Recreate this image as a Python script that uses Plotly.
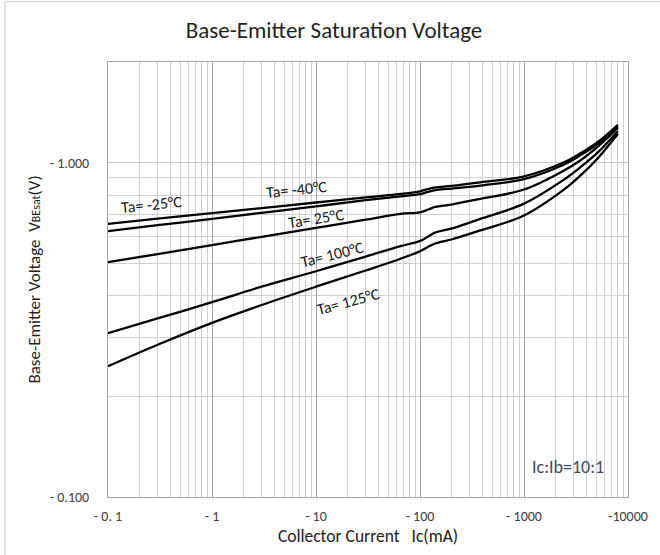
import plotly.graph_objects as go

# ---------------- data ----------------
ic_ma = [0.1, 0.3, 1, 3, 10, 30, 65, 100, 120, 140, 200, 380, 1000, 2400, 3500, 5100, 8000]

vbe_m40 = [0.656, 0.680, 0.706, 0.731, 0.760, 0.787, 0.806, 0.821, 0.834, 0.843, 0.852, 0.873, 0.910, 1.001, 1.067, 1.151, 1.297]
vbe_m25 = [0.624, 0.650, 0.679, 0.708, 0.740, 0.772, 0.793, 0.805, 0.818, 0.828, 0.836, 0.854, 0.893, 0.986, 1.053, 1.136, 1.284]
vbe_25 = [0.504, 0.533, 0.567, 0.600, 0.638, 0.675, 0.703, 0.710, 0.724, 0.737, 0.749, 0.779, 0.831, 0.946, 1.017, 1.115, 1.270]
vbe_100 = [0.309, 0.342, 0.3825, 0.4256, 0.4733, 0.5237, 0.5626, 0.583, 0.601, 0.618, 0.635, 0.679, 0.754, 0.888, 0.970, 1.071, 1.241]
vbe_125 = [0.246, 0.2853, 0.3318, 0.3752, 0.4256, 0.4757, 0.516, 0.5435, 0.560, 0.573, 0.589, 0.627, 0.695, 0.829, 0.916, 1.029, 1.220]

series_names = ["Ta= -40°C", "Ta= -25°C", "Ta= 25°C", "Ta= 100°C", "Ta= 125°C"]
series_values = [vbe_m40, vbe_m25, vbe_25, vbe_100, vbe_125]

x_tickvals = [0.1, 1, 10, 100, 1000, 10000]
x_ticktext = ["- 0. 1", "- 1", "- 10", "- 100", "- 1000", "-10000"]
x_minor = [m * d for d in [0.1, 1, 10, 100, 1000] for m in range(2, 10)]

y_tickvals = [0.1, 1.0]
y_ticktext = ["- 0.100", "- 1.000"]
y_minor = [0.2, 0.3, 0.4, 0.5, 0.6, 0.7, 0.8, 0.9]

FONT = "Carlito, Lato, sans-serif"
TXT = "#404040"

fig = go.Figure()
for name, vals in zip(series_names, series_values):
    fig.add_trace(go.Scatter(
        x=ic_ma, y=vals, mode="lines", name=name,
        line=dict(color="black", width=2.3, shape="spline", smoothing=1.0),
        showlegend=False, hoverinfo="skip"))

L, R, T, B = 108, 628, 62, 497
W, H = R - L, B - T

# curve labels (paper coordinates)
labels = [
    ("Ta= -25°C", 151, 204, -6),
    ("Ta= -40°C", 296, 189, -6),
    ("Ta= 25°C", 316, 218, -9),
    ("Ta= 100°C", 332, 254, -14),
    ("Ta= 125°C", 348, 301, -15),
]
for txt, px, py, rot in labels:
    fig.add_annotation(text=txt, xref="paper", yref="paper",
                       x=(px - L) / W, y=(B - py) / H, showarrow=False,
                       xanchor="center", yanchor="middle",
                       textangle=rot, font=dict(family=FONT, size=16, color="#1a1a1a"))

# white box with condition
fig.add_shape(type="rect", xref="paper", yref="paper",
              x0=0.8, x1=0.996, y0=(B - 484) / H, y1=(B - 448) / H,
              fillcolor="white", line=dict(width=0), layer="between")
fig.add_annotation(text="Ic:Ib=10:1", xref="paper", yref="paper",
                   x=(568 - L) / W, y=(B - 467) / H, showarrow=False,
                   xanchor="center", yanchor="middle",
                   font=dict(family=FONT, size=18, color="#3a4a5a"))

# outer frame lines (top and left)
fig.add_shape(type="line", xref="paper", yref="paper",
              x0=(5 - L) / W, x1=(660 - L) / W, y0=(B - 1.5) / H, y1=(B - 1.5) / H,
              line=dict(color="#d9d9d9", width=1.5))
fig.add_shape(type="line", xref="paper", yref="paper",
              x0=(5 - L) / W, x1=(5 - L) / W, y0=(B - 1.5) / H, y1=(B - 555) / H,
              line=dict(color="#d9d9d9", width=1.5))

fig.update_layout(
    width=660, height=555,
    margin=dict(l=L, r=660 - R, t=T, b=555 - B),
    paper_bgcolor="white", plot_bgcolor="white",
    title=dict(text="Base-Emitter Saturation Voltage", x=334 / 660, xanchor="center",
               y=1 - 30 / 555, yanchor="middle",
               font=dict(family=FONT, size=23, color="#1f1f1f")),
    xaxis=dict(
        type="log", range=[-1, 4],
        tickmode="array", tickvals=x_tickvals, ticktext=x_ticktext,
        showgrid=True, gridcolor="#a6a6a6", gridwidth=1,
        minor=dict(tickvals=x_minor, showgrid=True, gridcolor="#d0d0d0", gridwidth=1, ticks=""),
        showline=True, linecolor="#a6a6a6", linewidth=1, mirror=True,
        ticks="", zeroline=False,
        tickfont=dict(family=FONT, size=14, color=TXT),
        ticklabelstandoff=6,
        title=dict(text="Collector Current   Ic(mA)", standoff=4,
                   font=dict(family=FONT, size=17.5, color="#222222")),
    ),
    yaxis=dict(
        type="log", range=[-1, 0.301],
        tickmode="array", tickvals=y_tickvals, ticktext=y_ticktext,
        showgrid=True, gridcolor="#c8c8c8", gridwidth=1,
        minor=dict(tickvals=y_minor, showgrid=True, gridcolor="#d0d0d0", gridwidth=1, ticks=""),
        showline=True, linecolor="#a6a6a6", linewidth=1, mirror=True,
        ticks="", zeroline=False,
        tickfont=dict(family=FONT, size=14, color=TXT),
        ticklabelstandoff=15,
        title=dict(text="Base-Emitter Voltage  V<span style='font-size:12px'>BEsat</span>(V)",
                   standoff=4,
                   font=dict(family=FONT, size=17, color="#222222")),
    ),
)

fig.write_html("out.html", config={"displayModeBar": False},
               post_script="document.body.style.margin='0px';")
